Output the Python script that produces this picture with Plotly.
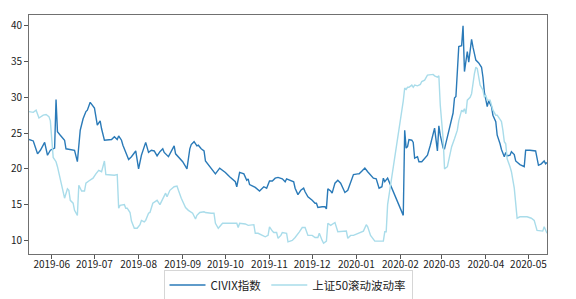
import plotly.graph_objects as go

civix_dates = [
    "2019-05-16", "2019-05-19", "2019-05-22", "2019-05-24", "2019-05-27", "2019-05-29", "2019-05-31",
    "2019-06-03", "2019-06-04", "2019-06-05", "2019-06-07", "2019-06-10", "2019-06-11", "2019-06-14",
    "2019-06-17", "2019-06-19", "2019-06-21", "2019-06-23", "2019-06-25", "2019-06-26", "2019-06-28",
    "2019-07-01", "2019-07-03", "2019-07-05", "2019-07-06", "2019-07-08", "2019-07-11", "2019-07-13",
    "2019-07-15", "2019-07-17", "2019-07-18", "2019-07-20", "2019-07-21", "2019-07-23", "2019-07-25",
    "2019-07-27", "2019-07-30", "2019-08-01", "2019-08-03", "2019-08-06", "2019-08-08", "2019-08-10",
    "2019-08-12", "2019-08-14", "2019-08-16", "2019-08-18", "2019-08-19", "2019-08-22", "2019-08-24",
    "2019-08-26", "2019-08-27", "2019-08-30", "2019-09-01", "2019-09-04", "2019-09-06", "2019-09-07",
    "2019-09-09", "2019-09-11", "2019-09-12", "2019-09-14", "2019-09-16", "2019-09-17", "2019-09-19",
    "2019-09-21", "2019-09-24", "2019-09-27", "2019-10-01", "2019-10-04", "2019-10-08", "2019-10-09",
    "2019-10-11", "2019-10-14", "2019-10-16", "2019-10-17", "2019-10-18", "2019-10-22", "2019-10-25",
    "2019-10-28", "2019-10-30", "2019-11-01", "2019-11-03", "2019-11-05", "2019-11-07", "2019-11-10",
    "2019-11-12", "2019-11-13", "2019-11-15", "2019-11-18", "2019-11-19", "2019-11-21", "2019-11-23",
    "2019-11-25", "2019-11-26", "2019-11-28", "2019-12-01", "2019-12-03", "2019-12-04", "2019-12-05",
    "2019-12-08", "2019-12-10", "2019-12-11", "2019-12-12", "2019-12-14", "2019-12-15", "2019-12-17",
    "2019-12-19", "2019-12-21", "2019-12-22", "2019-12-24", "2019-12-26", "2019-12-28", "2019-12-30",
    "2020-01-02", "2020-01-03", "2020-01-05", "2020-01-07", "2020-01-09", "2020-01-11", "2020-01-13",
    "2020-01-15", "2020-01-17", "2020-01-19", "2020-01-20", "2020-01-21", "2020-01-23", "2020-02-03",
    "2020-02-04", "2020-02-05", "2020-02-06", "2020-02-07", "2020-02-09", "2020-02-10", "2020-02-11",
    "2020-02-13", "2020-02-14", "2020-02-16", "2020-02-18", "2020-02-20", "2020-02-22", "2020-02-24",
    "2020-02-25", "2020-02-27", "2020-02-28", "2020-02-29", "2020-03-02", "2020-03-03", "2020-03-05",
    "2020-03-07", "2020-03-09", "2020-03-10", "2020-03-11", "2020-03-12", "2020-03-13", "2020-03-15",
    "2020-03-16", "2020-03-17", "2020-03-19", "2020-03-20", "2020-03-22", "2020-03-23", "2020-03-25",
    "2020-03-27", "2020-03-29", "2020-03-30", "2020-03-31", "2020-04-02", "2020-04-03", "2020-04-05",
    "2020-04-06", "2020-04-08", "2020-04-09", "2020-04-11", "2020-04-12", "2020-04-14", "2020-04-15",
    "2020-04-16", "2020-04-18", "2020-04-19", "2020-04-21", "2020-04-22", "2020-04-25", "2020-04-28",
    "2020-04-29", "2020-05-02", "2020-05-06", "2020-05-08", "2020-05-10", "2020-05-12", "2020-05-13",
    "2020-05-14",
]
civix_values = [
    24.1, 23.9, 22.1, 22.6, 23.7, 21.9, 22.6,
    22.9, 29.7, 25.2, 24.7, 24.0, 22.8, 22.7,
    22.6, 21.0, 25.4, 27.0, 28.0, 28.2, 29.3,
    28.5, 26.1, 26.7, 25.6, 24.0, 24.1, 24.1,
    24.5, 24.1, 24.6, 24.0, 23.3, 22.4, 21.3,
    21.7, 22.5, 20.0, 21.9, 23.7, 22.3, 22.6,
    22.5, 21.8, 22.4, 22.8, 22.3, 21.7, 22.4,
    23.2, 22.1, 21.5, 21.0, 20.0, 22.8, 23.4,
    23.8, 23.2, 23.3, 22.8, 22.5, 21.1, 20.6,
    20.0, 19.3, 20.1, 19.5, 18.9, 18.2, 17.5,
    19.5, 19.3, 18.4, 18.6, 17.8, 17.4, 16.9,
    17.5, 17.3, 18.3, 18.3, 18.7, 18.8, 18.6,
    18.2, 18.6, 18.4, 18.2, 17.3, 16.4, 17.0,
    17.3, 16.8, 16.1, 15.6, 15.2, 15.2, 14.6,
    14.7, 14.7, 14.4, 17.2, 16.9, 16.6, 18.0,
    18.4, 18.0, 17.5, 16.7, 17.0, 18.2, 19.2,
    19.3, 19.3, 19.7, 20.1, 19.6, 19.1, 18.7,
    18.6, 17.3, 17.5, 18.7, 18.2, 18.7, 13.5,
    25.4, 22.9, 23.1, 24.1, 24.0, 23.7, 21.5,
    21.7, 21.0, 21.0, 21.4, 21.9, 23.3, 24.9,
    25.7, 22.5, 26.0, 24.7, 22.9, 22.8, 24.5,
    26.1, 27.8, 29.9, 30.1, 33.6, 37.1, 37.2,
    40.0, 33.6, 36.4, 34.9, 38.1, 37.0, 35.2,
    34.8, 34.2, 32.8, 30.7, 28.7, 29.5, 28.7,
    27.5, 26.6, 24.7, 23.5, 22.7, 21.7, 22.3,
    21.8, 21.9, 22.4, 22.0, 21.1, 20.6, 20.3,
    22.6, 22.6, 22.5, 20.5, 20.7, 21.1, 20.7,
    20.9,
]

sz50_dates = [
    "2019-05-16", "2019-05-19", "2019-05-21", "2019-05-23", "2019-05-26", "2019-05-28", "2019-05-30",
    "2019-05-31", "2019-06-02", "2019-06-04", "2019-06-05", "2019-06-07", "2019-06-10", "2019-06-12",
    "2019-06-13", "2019-06-14", "2019-06-16", "2019-06-17", "2019-06-19", "2019-06-20", "2019-06-22",
    "2019-06-24", "2019-06-25", "2019-06-27", "2019-06-30", "2019-07-02", "2019-07-04", "2019-07-06",
    "2019-07-08", "2019-07-09", "2019-07-13", "2019-07-15", "2019-07-17", "2019-07-18", "2019-07-19",
    "2019-07-22", "2019-07-23", "2019-07-24", "2019-07-26", "2019-07-27", "2019-07-29", "2019-07-31",
    "2019-08-02", "2019-08-03", "2019-08-05", "2019-08-06", "2019-08-08", "2019-08-09", "2019-08-11",
    "2019-08-13", "2019-08-14", "2019-08-16", "2019-08-19", "2019-08-20", "2019-08-21", "2019-08-23",
    "2019-08-26", "2019-08-28", "2019-08-29", "2019-08-31", "2019-09-03", "2019-09-05", "2019-09-08",
    "2019-09-10", "2019-09-11", "2019-09-13", "2019-09-16", "2019-09-17", "2019-09-21", "2019-09-23",
    "2019-09-24", "2019-09-26", "2019-09-29", "2019-10-05", "2019-10-09", "2019-10-10", "2019-10-11",
    "2019-10-15", "2019-10-17", "2019-10-21", "2019-10-22", "2019-10-24", "2019-10-27", "2019-10-29",
    "2019-10-31", "2019-11-01", "2019-11-03", "2019-11-04", "2019-11-06", "2019-11-07", "2019-11-09",
    "2019-11-10", "2019-11-13", "2019-11-14", "2019-11-17", "2019-11-19", "2019-11-22", "2019-11-24",
    "2019-11-26", "2019-11-28", "2019-12-01", "2019-12-03", "2019-12-05", "2019-12-06", "2019-12-08",
    "2019-12-09", "2019-12-11", "2019-12-12", "2019-12-14", "2019-12-16", "2019-12-17", "2019-12-19",
    "2019-12-21", "2019-12-23", "2019-12-25", "2019-12-26", "2019-12-28", "2019-12-30", "2020-01-02",
    "2020-01-04", "2020-01-06", "2020-01-08", "2020-01-09", "2020-01-11", "2020-01-13", "2020-01-14",
    "2020-01-20", "2020-01-21", "2020-01-22", "2020-01-23", "2020-02-03", "2020-02-04", "2020-02-05",
    "2020-02-06", "2020-02-07", "2020-02-09", "2020-02-10", "2020-02-11", "2020-02-13", "2020-02-15",
    "2020-02-16", "2020-02-18", "2020-02-20", "2020-02-22", "2020-02-24", "2020-02-25", "2020-02-27",
    "2020-02-28", "2020-02-29", "2020-03-02", "2020-03-03", "2020-03-05", "2020-03-06", "2020-03-08",
    "2020-03-10", "2020-03-12", "2020-03-13", "2020-03-15", "2020-03-16", "2020-03-17", "2020-03-18",
    "2020-03-19", "2020-03-21", "2020-03-22", "2020-03-24", "2020-03-25", "2020-03-26", "2020-03-27",
    "2020-03-28", "2020-03-30", "2020-03-31", "2020-04-01", "2020-04-02", "2020-04-04", "2020-04-05",
    "2020-04-06", "2020-04-08", "2020-04-09", "2020-04-11", "2020-04-12", "2020-04-13", "2020-04-14",
    "2020-04-15", "2020-04-16", "2020-04-18", "2020-04-19", "2020-04-21", "2020-04-22", "2020-04-23",
    "2020-04-25", "2020-04-30", "2020-05-03", "2020-05-05", "2020-05-07", "2020-05-09", "2020-05-11",
    "2020-05-12", "2020-05-14",
]
sz50_values = [
    28.0, 27.9, 28.2, 27.1, 27.5, 27.6, 27.3,
    26.7, 21.6, 21.0, 20.3, 18.4, 15.9, 17.2,
    17.0, 15.6, 15.2, 14.2, 13.5, 17.7, 16.9,
    16.9, 18.0, 18.3, 18.7, 19.3, 19.8, 19.6,
    21.1, 19.2, 19.1, 19.1, 19.2, 14.5, 14.9,
    15.0, 14.5, 14.5, 13.9, 12.7, 11.7, 11.7,
    12.2, 12.8, 12.6, 12.8, 13.8, 13.9, 15.2,
    15.4, 15.6, 15.0, 16.3, 16.6, 16.1, 17.0,
    17.5, 17.6, 17.0, 15.9, 14.6, 14.2, 13.8,
    13.0, 13.5, 13.9, 14.0, 13.9, 13.8, 13.8,
    12.4, 11.7, 12.4, 12.4, 12.4, 11.8, 12.4,
    12.3, 12.1, 12.2, 11.0, 11.0, 10.7, 10.5,
    10.7, 11.9, 11.3, 11.1, 11.1, 10.3, 10.7,
    11.1, 11.0, 9.8, 10.0, 10.4, 11.2, 11.8,
    11.8, 10.7, 10.7, 10.4, 10.4, 11.0, 10.0,
    9.6, 9.9, 12.4, 12.1, 12.4, 12.5, 11.2,
    11.2, 11.3, 11.3, 10.3, 10.7, 10.7, 11.0,
    11.2, 11.3, 12.2, 11.9, 10.7, 10.2, 9.9,
    9.9, 11.2, 11.2, 15.0, 29.5, 31.3, 31.1,
    31.4, 31.4, 31.7, 31.4, 31.7, 31.6, 31.8,
    32.2, 32.4, 33.1, 33.2, 33.2, 33.0, 32.8,
    33.0, 28.9, 24.2, 20.0, 20.3, 21.4, 23.1,
    24.2, 25.4, 26.7, 28.2, 28.0, 28.4, 27.7,
    29.6, 30.0, 30.5, 33.3, 34.2, 34.0, 32.8,
    31.7, 31.0, 30.0, 30.3, 29.6, 29.6, 28.9,
    28.2, 27.5, 27.5, 26.9, 26.6, 25.4, 23.8,
    23.5, 21.4, 20.3, 19.6, 17.3, 14.7, 13.1,
    13.3, 13.3, 13.1, 12.8, 11.4, 11.3, 11.3,
    11.9, 11.0,
]

series_names = ["CIVIX指数", "上证50滚动波动率"]
xtick_dates = ["2019-06-01", "2019-07-01", "2019-08-01", "2019-09-01", "2019-10-01", "2019-11-01",
               "2019-12-01", "2020-01-01", "2020-02-01", "2020-03-01", "2020-04-01", "2020-05-01"]
ytick_values = [10, 15, 20, 25, 30, 35, 40]

FONT = "Noto Sans CJK SC"

fig = go.Figure()
fig.add_trace(go.Scatter(x=civix_dates, y=civix_values, mode="lines", name=series_names[0],
                         line=dict(color="#2a7ab8", width=1.4)))
fig.add_trace(go.Scatter(x=sz50_dates, y=sz50_values, mode="lines", name=series_names[1],
                         line=dict(color="#a9dcea", width=1.4)))

axis_common = dict(showline=True, mirror=True, linecolor="#707070", linewidth=1,
                   ticks="outside", ticklen=4, tickcolor="#555", tickwidth=1,
                   showgrid=False, zeroline=False,
                   tickfont=dict(family=FONT, size=10, color="#222"))

fig.update_layout(
    width=576, height=299,
    margin=dict(l=29, r=29, t=15, b=45, autoexpand=False),
    paper_bgcolor="white", plot_bgcolor="white",
    font=dict(family=FONT, color="#222"),
    xaxis=dict(type="date", range=[civix_dates[0], civix_dates[-1]],
               tickvals=xtick_dates, tickformat="%Y-%m", ticklabelstandoff=-3, **axis_common),
    yaxis=dict(range=[8.1, 41.5], tickvals=ytick_values, **axis_common),
    legend=dict(orientation="h", x=0.5, xanchor="center", y=-0.065, yanchor="top",
                bordercolor="#d6d6d6", borderwidth=1, bgcolor="white",
                font=dict(family=FONT, size=11.5, color="#222"),
                itemwidth=36, tracegroupgap=0),
    showlegend=True,
)

fig.write_html("out.html")
